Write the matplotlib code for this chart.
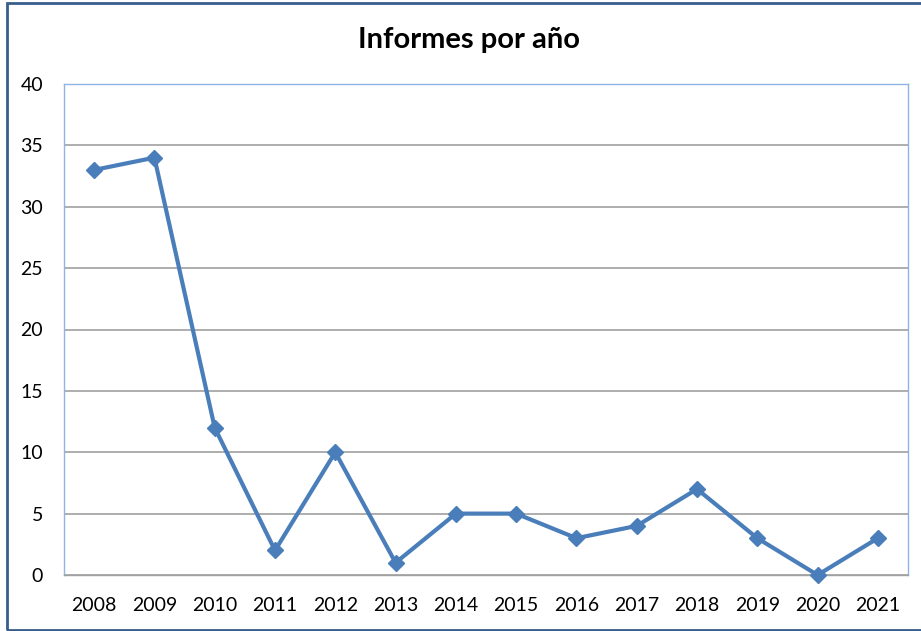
import numpy as np
import matplotlib.pyplot as plt
from matplotlib.patches import Rectangle

anos = ['2008', '2009', '2010', '2011', '2012', '2013', '2014',
        '2015', '2016', '2017', '2018', '2019', '2020', '2021']
informes = [33, 34, 12, 2, 10, 1, 5, 5, 3, 4, 7, 3, 0, 3]

plt.rcParams['font.family'] = ['Lato', 'DejaVu Sans']

fig = plt.figure(figsize=(9.21, 6.31), dpi=100)
ax = fig.add_axes([64/921, 1 - 575/631, (908-64)/921, (575-84)/631])

# borde exterior del grafico
fig.patches.append(Rectangle((7/921, 1/631), 1.0, 1 - 4/631, transform=fig.transFigure,
                             fill=False, edgecolor='#385D8A', linewidth=2, clip_on=False))

x = np.arange(len(anos))
ax.plot(x, informes, color='#4A7EBB', linewidth=3, marker='D', markersize=8,
        markerfacecolor='#4A7EBB', markeredgecolor='#4A7EBB', clip_on=False, zorder=3)

ax.set_xlim(-0.5, len(anos) - 0.5)
ax.set_ylim(0, 40)
ax.set_yticks(np.arange(0, 41, 5))
ax.set_xticks(x)
ax.set_xticklabels(anos)
ax.tick_params(axis='both', length=0, labelsize=14, colors='black')
ax.tick_params(axis='x', pad=16)
ax.tick_params(axis='y', pad=15)
ax.grid(axis='y', color='#A0A0A0', linewidth=1.2)
ax.set_axisbelow(True)
for s in ax.spines.values():
    s.set_color('#8EB4E3')
    s.set_linewidth(1)
ax.spines['bottom'].set_color('#A0A0A0')

fig.text(469/921, 1 - 40/631, 'Informes por año', ha='center', va='center',
         fontsize=21, fontweight='bold')

fig.savefig('out.png', dpi=100)
